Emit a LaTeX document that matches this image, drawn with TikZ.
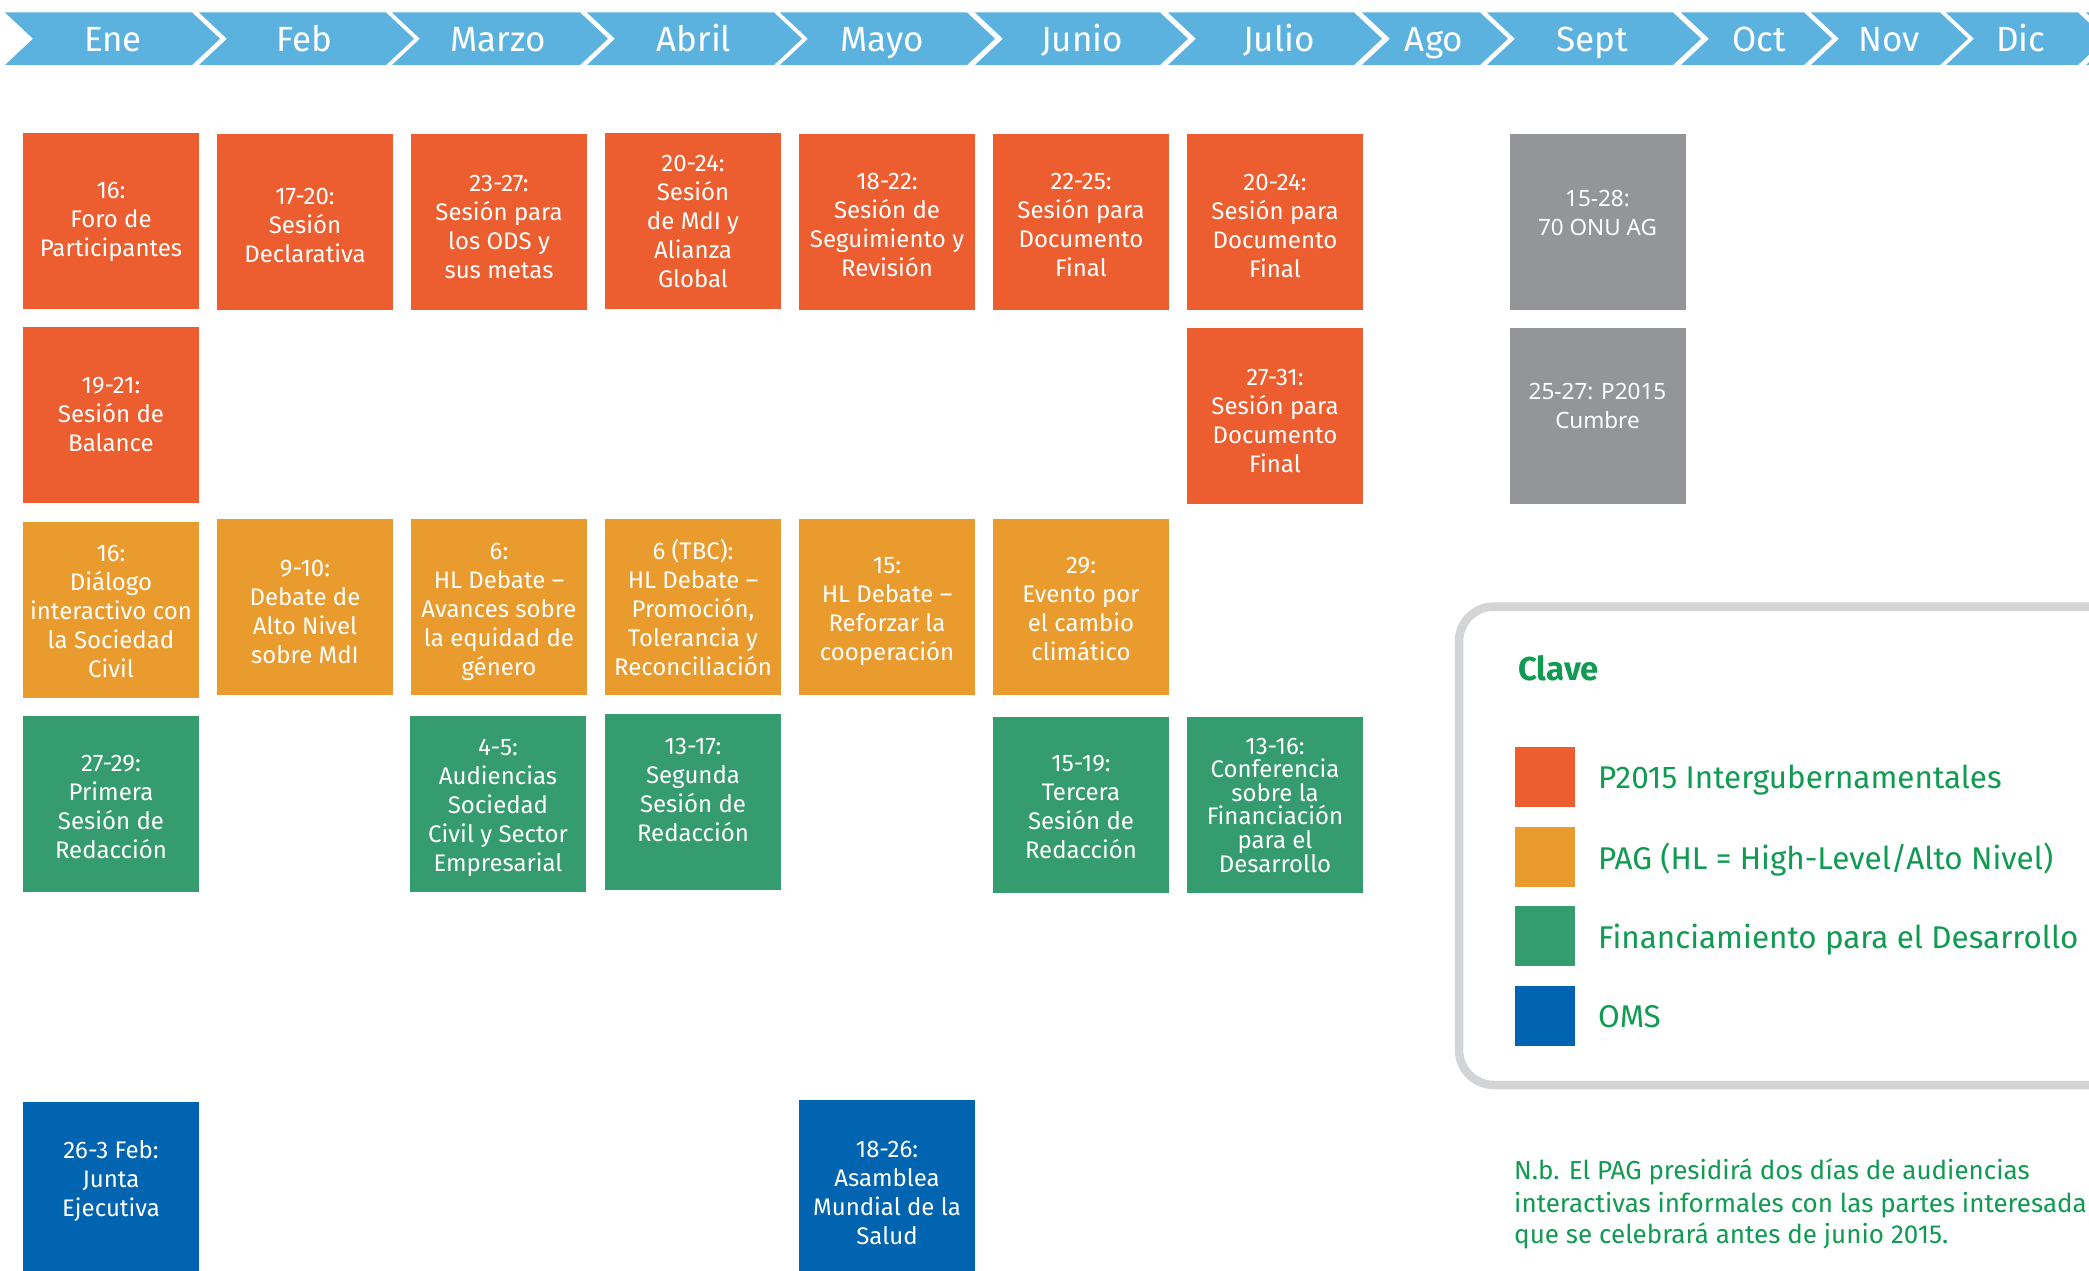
\documentclass[tikz,border=0pt]{standalone}
\usepackage{fontspec}
\setmainfont{Fira Sans}
\newfontfamily\greyfont{Noto Sans}
\usetikzlibrary{calc}
\definecolor{cOrange}{RGB}{236,94,47}
\definecolor{cPag}{RGB}{234,155,46}
\definecolor{cGreen}{RGB}{53,156,111}
\definecolor{cBlue}{RGB}{0,100,177}
\definecolor{cGrey}{RGB}{147,149,152}
\definecolor{cHead}{RGB}{91,178,223}
\definecolor{cBorder}{RGB}{211,212,214}
\definecolor{cText}{RGB}{16,154,82}
\begin{document}
\begin{tikzpicture}[x=1pt,y=-1pt,
  plainbox/.style={minimum width=176pt,minimum height=176pt,inner sep=0pt},
  boxtext/.style={inner sep=0pt,align=center,text=white,font=\fontsize{24}{29}\selectfont},
  greytext/.style={inner sep=0pt,align=center,text=white,font=\greyfont\fontsize{22.5}{29}\selectfont},
  monthlbl/.style={inner sep=0pt,anchor=base,text=white,font=\fontsize{35}{40}\selectfont},
  swatch/.style={minimum width=60pt,minimum height=60pt,inner sep=0pt},
  legtext/.style={inner sep=0pt,anchor=base west,text=cText,font=\fontsize{31.4}{36}\selectfont},
  notetext/.style={inner sep=0pt,anchor=base west,text=cText,font=\fontsize{26}{32}\selectfont}
]
\clip (0,0) rectangle (2089,1271);
\fill[white] (0,0) rectangle (2089,1271);

% header chevrons
\foreach \s/\e/\lx/\t [count=\i] in {5/192/113/Ene,199/386/304/Feb,392/580/498/Marzo,587/774/694/Abril,780/967/882/Mayo,975/1160/1082/Junio,1168/1354/1279/Julio,1362/1480/1434/Ago,1487/1673/1592/Sept,1681/1804/1759/Oct,1811/1940/1889/Nov,1946/2078/2021/Dic}{
  \fill[cHead] (\s,12.5) -- (\e,12.5) -- (\e+28,38.75) -- (\e,65) -- (\s,65) -- (\s+28,38.75) -- cycle;
  \node[monthlbl] (m\i) at (\lx,51.5) {\t};
}
\fill[cHead] (2086,12.5) -- (2300,12.5) -- (2300,65) -- (2086,65) -- (2114,38.75) -- cycle;

% row 1 (P2015 intergubernamentales)
\node[plainbox,fill=cOrange] (a1) at (111,221) {};
\node[boxtext] (a1t) at ($(a1.center)+(0,1)$) {16:\\Foro de\\Participantes};
\node[plainbox,fill=cOrange] (a2) at (305,222) {};
\node[boxtext] (a2t) at ($(a2.center)+(0,3)$) {17-20:\\Sesión\\Declarativa};
\node[plainbox,fill=cOrange] (a3) at (499,222) {};
\node[boxtext] (a3t) at ($(a3.center)+(0,5)$) {23-27:\\Sesión para\\los ODS y\\sus metas};
\node[plainbox,fill=cOrange] (a4) at (693,221) {};
\node[boxtext] (a4t) at ($(a4.center)+(0,0)$) {20-24:\\Sesión\\de MdI y\\Alianza\\Global};
\node[plainbox,fill=cOrange] (a5) at (887,222) {};
\node[boxtext] (a5t) at ($(a5.center)+(0,3)$) {18-22:\\Sesión de\\Seguimiento y\\Revisión};
\node[plainbox,fill=cOrange] (a6) at (1081,222) {};
\node[boxtext] (a6t) at ($(a6.center)+(0,3)$) {22-25:\\Sesión para\\Documento\\Final};
\node[plainbox,fill=cOrange] (a7) at (1275,222) {};
\node[boxtext] (a7t) at ($(a7.center)+(0,4)$) {20-24:\\Sesión para\\Documento\\Final};

% row 2
\node[plainbox,fill=cOrange] (b1) at (111,415) {};
\node[boxtext] (b1t) at ($(b1.center)+(0,-1)$) {19-21:\\Sesión de\\Balance};
\node[plainbox,fill=cOrange] (b7) at (1275,416) {};
\node[boxtext] (b7t) at ($(b7.center)+(0,5)$) {27-31:\\Sesión para\\Documento\\Final};

% grey boxes
\node[plainbox,fill=cGrey] (g1) at (1597.5,222) {};
\node[greytext] (g1t) at ($(g1.center)+(0,-9)$) {15-28:\\70 ONU AG};
\node[plainbox,fill=cGrey] (g2) at (1597.5,416) {};
\node[greytext] (g2t) at ($(g2.center)+(0,-10)$) {25-27: P2015\\Cumbre};

% row 3 (PAG)
\node[plainbox,fill=cPag] (c1) at (111,610) {};
\node[boxtext] (c1t) at ($(c1.center)+(0,1)$) {16:\\Diálogo\\interactivo con\\la Sociedad\\Civil};
\node[plainbox,fill=cPag] (c2) at (305,607) {};
\node[boxtext] (c2t) at ($(c2.center)+(0,5)$) {9-10:\\Debate de\\Alto Nivel\\sobre MdI};
\node[plainbox,fill=cPag] (c3) at (499,607) {};
\node[boxtext] (c3t) at ($(c3.center)+(0,5)$) {6:\\HL Debate –\\Avances sobre\\la equidad de\\género};
\node[plainbox,fill=cPag] (c4) at (693,607) {};
\node[boxtext] (c4t) at ($(c4.center)+(0,0)$) {6 (TBC):\\HL Debate –\\Promoción,\\Tolerancia y\\Reconciliación};
\node[plainbox,fill=cPag] (c5) at (887,607) {};
\node[boxtext] (c5t) at ($(c5.center)+(0,5)$) {15:\\HL Debate –\\Reforzar la\\cooperación};
\node[plainbox,fill=cPag] (c6) at (1081,607) {};
\node[boxtext] (c6t) at ($(c6.center)+(0,2)$) {29:\\Evento por\\el cambio\\climático};

% row 4 (Financiamiento)
\node[plainbox,fill=cGreen] (d1) at (111,804) {};
\node[boxtext] (d1t) at ($(d1.center)+(0,3)$) {27-29:\\Primera\\Sesión de\\Redacción};
\node[plainbox,fill=cGreen] (d3) at (498,804) {};
\node[boxtext] (d3t) at ($(d3.center)+(0,4)$) {4-5:\\Audiencias\\Sociedad\\Civil y Sector\\Empresarial};
\node[plainbox,fill=cGreen] (d4) at (693,802) {};
\node[boxtext] (d4t) at ($(d4.center)+(0,-12)$) {13-17:\\Segunda\\Sesión de\\Redacción};
\node[plainbox,fill=cGreen] (d6) at (1081,805) {};
\node[boxtext] (d6t) at ($(d6.center)+(0,2)$) {15-19:\\Tercera\\Sesión de\\Redacción};
\node[plainbox,fill=cGreen] (d7) at (1275,805) {};
\node[boxtext,font=\fontsize{24}{23.6}\selectfont] (d7t) at ($(d7.center)+(0,0)$) {13-16:\\Conferencia\\sobre la\\Financiación\\para el\\Desarrollo};

% row 5 (OMS)
\node[plainbox,fill=cBlue] (e1) at (111,1190) {};
\node[boxtext] (e1t) at ($(e1.center)+(0,-9)$) {26-3 Feb:\\Junta\\Ejecutiva};
\node[plainbox,fill=cBlue] (e5) at (887,1188) {};
\node[boxtext] (e5t) at ($(e5.center)+(0,5)$) {18-26:\\Asamblea\\Mundial de la\\Salud};

% legend
\draw[line width=8.5pt,cBorder,rounded corners=35pt] (1459,606.5) rectangle (2160,1085);
\node[inner sep=0pt,anchor=base west,text=cText,font=\bfseries\fontsize{33}{38}\selectfont] (clave) at (1518,680.7) {Clave};
\node[swatch,fill=cOrange] (s1) at (1545,777) {};
\node[swatch,fill=cPag] (s2) at (1545,857) {};
\node[swatch,fill=cGreen] (s3) at (1545,936) {};
\node[swatch,fill=cBlue] (s4) at (1545,1016) {};
\node[legtext] (l1) at (1598,788) {P2015 Intergubernamentales};
\node[legtext] (l2) at (1598,869) {PAG (HL = High-Level/Alto Nivel)};
\node[legtext] (l3) at (1598,948) {Financiamiento para el Desarrollo};
\node[legtext] (l4) at (1598,1027) {OMS};

% note
\node[notetext] (n1) at (1514,1179) {N.b. El PAG presidirá dos días de audiencias};
\node[notetext] (n2) at (1514,1212) {interactivas informales con las partes interesada};
\node[notetext] (n3) at (1514,1243) {que se celebrará antes de junio 2015.};
\end{tikzpicture}
\end{document}
